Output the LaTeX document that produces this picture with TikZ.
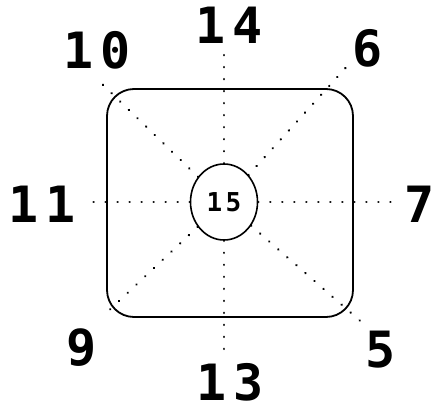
\documentclass[tikz,border=0pt]{standalone}
\usepackage{fontspec}
\newfontfamily\dialfont[LetterSpace=13]{DejaVu Sans Mono}
\usetikzlibrary{positioning}
\usetikzlibrary{shapes.geometric}

\begin{document}
\begin{tikzpicture}[%
    x=1pt, y=-1pt,
    dial/.style={inner sep=0pt, font={\dialfont\bfseries\fontsize{50}{50}\selectfont}},
    spoke/.style={line width=2.6pt, line cap=round, dash pattern=on 0.01pt off 12pt},
    frame/.style={draw, rectangle, line width=1.8pt, rounded corners=27pt,
        minimum width=246pt, minimum height=228pt},
    hub/.style={draw, ellipse, line width=1.6pt, minimum width=67pt, minimum height=76pt,
        inner sep=0pt, font={\dialfont\bfseries\fontsize{26}{26}\selectfont}}
]
\useasboundingbox (0,0) rectangle (438,412);

% ---------------- Frame and hub ----------------
\node[frame] (box) at (230,203) {};
\node[hub] (hub) at (224,202) {15};

% ---------------- Spokes: dotted lines ----------------
\foreach \e/\pos in {e14/{224,52},e13/{224,358},e11/{85,202},e7/{395,202},
                     e10/{98,80},e6/{350,63},e5/{366,326},e9/{102,317}} {
    \coordinate (\e) at (\pos);
    \draw[spoke] (hub) -- (\e);
}

% ---------------- Numbers ----------------
\foreach \name/\pos/\txt in {l14/{229,25}/14,l10/{97,50}/10,l6/{368,48}/6,
                             l11/{42,204}/11,l7/{420,204}/7,l9/{82,348}/9,
                             l13/{230,382}/13,l5/{381,350}/5} {
    \node[dial] (\name) at (\pos) {\txt};
}

\end{tikzpicture}
\end{document}
